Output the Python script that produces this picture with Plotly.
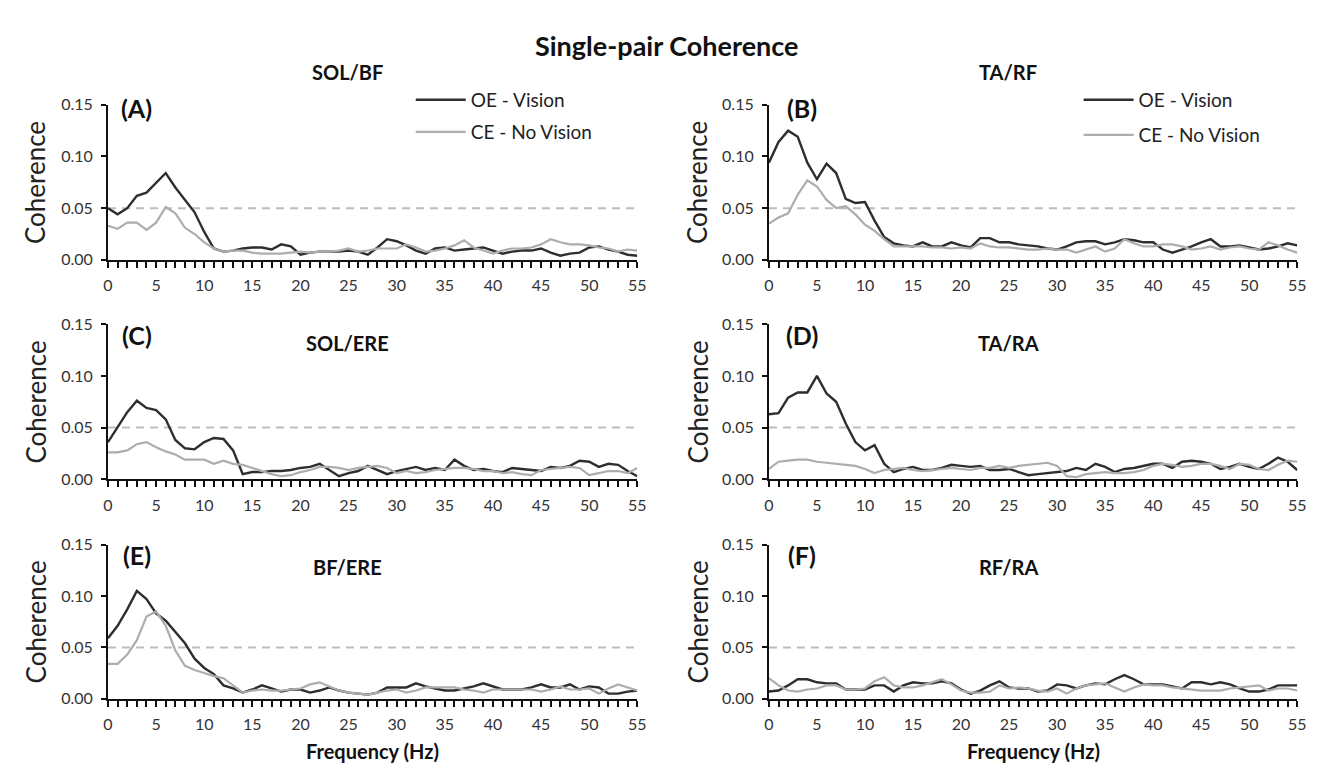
import plotly.graph_objects as go

# ---------------- data ----------------
freq = list(range(56))  # Hz
pair_names = ["SOL/BF", "TA/RF", "SOL/ERE", "TA/RA", "BF/ERE", "RF/RA"]
panel_letters = ["(A)", "(B)", "(C)", "(D)", "(E)", "(F)"]
series_names = ["OE - Vision", "CE - No Vision"]
threshold = 0.05
y_ticks = [0.00, 0.05, 0.10, 0.15]
y_ticklabels = ["0.00", "0.05", "0.10", "0.15"]
x_ticklabels = [str(f) if f % 5 == 0 else "" for f in freq]

sol_bf_oe = [0.050, 0.044, 0.050, 0.062, 0.065, 0.074, 0.084, 0.070, 0.058, 0.046,
             0.027, 0.011, 0.008, 0.009, 0.011, 0.012, 0.012, 0.010, 0.015, 0.013,
             0.005, 0.007, 0.008, 0.008, 0.008, 0.009, 0.008, 0.005, 0.012, 0.020,
             0.018, 0.014, 0.009, 0.006, 0.011, 0.012, 0.009, 0.010, 0.011, 0.012,
             0.009, 0.006, 0.008, 0.009, 0.009, 0.011, 0.007, 0.004, 0.006, 0.007,
             0.012, 0.013, 0.010, 0.008, 0.005, 0.004]
sol_bf_ce = [0.033, 0.030, 0.036, 0.036, 0.029, 0.036, 0.051, 0.045, 0.031, 0.025,
             0.017, 0.011, 0.008, 0.009, 0.009, 0.007, 0.006, 0.006, 0.006, 0.007,
             0.008, 0.007, 0.008, 0.008, 0.009, 0.011, 0.008, 0.009, 0.011, 0.011,
             0.011, 0.015, 0.012, 0.008, 0.009, 0.011, 0.014, 0.019, 0.012, 0.009,
             0.006, 0.009, 0.011, 0.011, 0.012, 0.015, 0.020, 0.017, 0.015, 0.015,
             0.014, 0.012, 0.011, 0.008, 0.010, 0.009]
ta_rf_oe = [0.094, 0.114, 0.125, 0.119, 0.094, 0.078, 0.093, 0.084, 0.059, 0.055,
            0.056, 0.038, 0.022, 0.016, 0.014, 0.013, 0.017, 0.013, 0.013, 0.017,
            0.014, 0.012, 0.021, 0.021, 0.017, 0.017, 0.015, 0.014, 0.013, 0.011,
            0.010, 0.013, 0.017, 0.018, 0.018, 0.015, 0.017, 0.020, 0.019, 0.017,
            0.017, 0.010, 0.007, 0.010, 0.013, 0.017, 0.020, 0.013, 0.013, 0.014,
            0.012, 0.010, 0.011, 0.013, 0.016, 0.014]
ta_rf_ce = [0.035, 0.041, 0.045, 0.063, 0.077, 0.071, 0.058, 0.050, 0.052, 0.044,
            0.034, 0.028, 0.020, 0.013, 0.013, 0.013, 0.013, 0.012, 0.012, 0.011,
            0.012, 0.011, 0.016, 0.013, 0.012, 0.012, 0.011, 0.010, 0.010, 0.011,
            0.010, 0.010, 0.007, 0.010, 0.013, 0.008, 0.011, 0.020, 0.016, 0.013,
            0.013, 0.015, 0.015, 0.013, 0.010, 0.011, 0.013, 0.010, 0.012, 0.013,
            0.011, 0.010, 0.017, 0.014, 0.010, 0.007]
sol_ere_oe = [0.036, 0.050, 0.065, 0.076, 0.069, 0.067, 0.058, 0.038, 0.030, 0.029,
              0.036, 0.040, 0.039, 0.028, 0.005, 0.007, 0.007, 0.008, 0.008, 0.009,
              0.011, 0.012, 0.015, 0.009, 0.003, 0.006, 0.008, 0.013, 0.009, 0.005,
              0.008, 0.010, 0.012, 0.009, 0.011, 0.009, 0.019, 0.013, 0.009, 0.010,
              0.008, 0.007, 0.011, 0.010, 0.009, 0.008, 0.012, 0.011, 0.013, 0.018,
              0.017, 0.012, 0.015, 0.014, 0.008, 0.003]
sol_ere_ce = [0.026, 0.026, 0.028, 0.034, 0.036, 0.031, 0.027, 0.024, 0.019, 0.019,
              0.019, 0.015, 0.018, 0.015, 0.014, 0.011, 0.008, 0.005, 0.003, 0.004,
              0.007, 0.009, 0.012, 0.012, 0.011, 0.009, 0.011, 0.012, 0.013, 0.011,
              0.006, 0.008, 0.006, 0.007, 0.009, 0.010, 0.011, 0.011, 0.010, 0.008,
              0.008, 0.006, 0.007, 0.005, 0.004, 0.009, 0.010, 0.011, 0.012, 0.011,
              0.004, 0.006, 0.008, 0.008, 0.006, 0.011]
ta_ra_oe = [0.063, 0.064, 0.079, 0.084, 0.084, 0.100, 0.083, 0.075, 0.054, 0.036,
            0.028, 0.033, 0.015, 0.007, 0.010, 0.012, 0.009, 0.009, 0.011, 0.014,
            0.013, 0.012, 0.013, 0.009, 0.009, 0.010, 0.007, 0.004, 0.005, 0.006,
            0.007, 0.008, 0.011, 0.009, 0.015, 0.012, 0.007, 0.010, 0.011, 0.013,
            0.015, 0.015, 0.011, 0.017, 0.018, 0.017, 0.015, 0.010, 0.012, 0.015,
            0.012, 0.010, 0.015, 0.021, 0.017, 0.009]
ta_ra_ce = [0.010, 0.017, 0.018, 0.019, 0.019, 0.017, 0.016, 0.015, 0.014, 0.013,
            0.010, 0.006, 0.009, 0.010, 0.011, 0.009, 0.008, 0.009, 0.010, 0.011,
            0.010, 0.009, 0.011, 0.011, 0.013, 0.011, 0.013, 0.014, 0.015, 0.016,
            0.013, 0.003, 0.002, 0.005, 0.006, 0.007, 0.006, 0.006, 0.007, 0.009,
            0.013, 0.015, 0.014, 0.012, 0.013, 0.015, 0.015, 0.013, 0.010, 0.015,
            0.014, 0.010, 0.009, 0.014, 0.018, 0.017]
bf_ere_oe = [0.059, 0.071, 0.087, 0.105, 0.097, 0.083, 0.076, 0.065, 0.054, 0.039,
             0.030, 0.024, 0.013, 0.010, 0.006, 0.009, 0.013, 0.010, 0.007, 0.009,
             0.009, 0.006, 0.008, 0.011, 0.008, 0.006, 0.005, 0.004, 0.006, 0.011,
             0.011, 0.011, 0.015, 0.012, 0.010, 0.008, 0.008, 0.010, 0.012, 0.015,
             0.012, 0.009, 0.009, 0.009, 0.011, 0.014, 0.011, 0.011, 0.014, 0.009,
             0.012, 0.011, 0.005, 0.005, 0.007, 0.008]
bf_ere_ce = [0.034, 0.034, 0.043, 0.057, 0.080, 0.085, 0.071, 0.047, 0.032, 0.028,
             0.025, 0.022, 0.020, 0.013, 0.006, 0.008, 0.009, 0.008, 0.008, 0.009,
             0.010, 0.014, 0.016, 0.012, 0.008, 0.006, 0.005, 0.004, 0.006, 0.008,
             0.009, 0.006, 0.008, 0.011, 0.011, 0.011, 0.011, 0.009, 0.008, 0.006,
             0.009, 0.009, 0.009, 0.009, 0.009, 0.007, 0.009, 0.012, 0.009, 0.009,
             0.010, 0.005, 0.010, 0.014, 0.011, 0.008]
rf_ra_oe = [0.007, 0.008, 0.013, 0.019, 0.019, 0.016, 0.015, 0.015, 0.009, 0.009,
            0.009, 0.013, 0.013, 0.007, 0.013, 0.016, 0.015, 0.015, 0.017, 0.015,
            0.009, 0.005, 0.008, 0.013, 0.017, 0.011, 0.010, 0.010, 0.007, 0.008,
            0.014, 0.013, 0.010, 0.013, 0.015, 0.014, 0.019, 0.023, 0.019, 0.014,
            0.014, 0.014, 0.012, 0.010, 0.016, 0.016, 0.014, 0.016, 0.014, 0.010,
            0.007, 0.007, 0.009, 0.013, 0.013, 0.013]
rf_ra_ce = [0.020, 0.013, 0.008, 0.007, 0.009, 0.010, 0.013, 0.013, 0.009, 0.009,
            0.010, 0.017, 0.021, 0.013, 0.011, 0.011, 0.013, 0.016, 0.019, 0.014,
            0.008, 0.006, 0.006, 0.007, 0.013, 0.010, 0.011, 0.010, 0.008, 0.007,
            0.010, 0.005, 0.010, 0.013, 0.014, 0.015, 0.011, 0.007, 0.011, 0.014,
            0.013, 0.013, 0.011, 0.010, 0.009, 0.008, 0.008, 0.008, 0.010, 0.011,
            0.012, 0.013, 0.008, 0.010, 0.010, 0.008]

oe_series = [sol_bf_oe, ta_rf_oe, sol_ere_oe, ta_ra_oe, bf_ere_oe, rf_ra_oe]
ce_series = [sol_bf_ce, ta_rf_ce, sol_ere_ce, ta_ra_ce, bf_ere_ce, rf_ra_ce]

# ---------------- layout helpers ----------------
W, H = 1322, 769
FONT = "Lato"
OE_COLOR = "#2e2e2e"
CE_COLOR = "#adadad"


def px(xp):
    return xp / W


def py(yp):
    return 1 - yp / H


col_dom = [(px(96), px(631)), (px(764), px(1298))]
row_dom = [(py(248), py(89)), (py(473), py(314)), (py(698), py(540))]

fig = go.Figure()
layout = dict(
    width=W, height=H,
    margin=dict(l=0, r=0, t=0, b=0),
    paper_bgcolor="white", plot_bgcolor="white",
    font=dict(family=FONT, color="#333"),
    annotations=[], shapes=[],
)

legend_names = {0: ("legend", "legend2"), 1: ("legend3", "legend4")}

for i in range(6):
    r, c = divmod(i, 2)
    ax = "" if i == 0 else str(i + 1)
    xa, ya = "x" + ax, "y" + ax
    show_leg = i in (0, 1)
    for s, (vals, color, width) in enumerate(
            [(oe_series[i], OE_COLOR, 2.4), (ce_series[i], CE_COLOR, 2.2)]):
        tr = dict(x=freq, y=vals, mode="lines", name=series_names[s],
                  line=dict(color=color, width=width),
                  xaxis=xa, yaxis=ya, showlegend=show_leg)
        if show_leg:
            tr["legend"] = legend_names[i][s]
        fig.add_trace(go.Scatter(**tr))

    layout["xaxis" + ax] = dict(
        domain=list(col_dom[c]), anchor=ya, range=[0, 55],
        tickmode="array", tickvals=freq, ticktext=x_ticklabels,
        ticks="outside", ticklen=6, tickwidth=1.6,
        tickcolor="#111", showline=True, linecolor="#111", linewidth=2,
        showgrid=False, zeroline=False,
        tickfont=dict(family=FONT, size=16, color="#333"),
        ticklabelstandoff=4,
    )
    layout["yaxis" + ax] = dict(
        domain=list(row_dom[r]), anchor=xa, range=[0, 0.15],
        tickvals=y_ticks, ticktext=y_ticklabels, ticks="outside", ticklen=5,
        tickwidth=1.6, tickcolor="#111", showline=True, linecolor="#111",
        linewidth=2, showgrid=False, zeroline=False,
        tickfont=dict(family=FONT, size=16, color="#333"),
        ticklabelstandoff=5,
    )
    # significance threshold
    layout["shapes"].append(dict(
        type="line", xref=xa, yref=ya, x0=freq[0], x1=freq[-1],
        y0=threshold, y1=threshold, layer="below",
        line=dict(color="#bdbdbd", width=2, dash="8px,6px")))

    # y-axis title
    layout["annotations"].append(dict(
        text="Coherence", xref="paper", yref="paper",
        x=px(23 if c == 0 else 692), y=(row_dom[r][0] + row_dom[r][1]) / 2,
        textangle=-90, showarrow=False, xanchor="center", yanchor="middle",
        font=dict(family=FONT, size=26, color="#222")))

    # panel letter
    letter_y = [92, 325, 551][r]
    layout["annotations"].append(dict(
        text="<b>%s</b>" % panel_letters[i], xref="paper", yref="paper",
        x=px(125 if c == 0 else 797), y=py(letter_y), showarrow=False,
        xanchor="center", yanchor="middle",
        font=dict(family=FONT, size=25, color="#111")))

    # pair title
    title_y = [55, 333, 563][r]
    layout["annotations"].append(dict(
        text="<b>%s</b>" % pair_names[i], xref="paper", yref="paper",
        x=px(338 if c == 0 else 1006), y=py(title_y), showarrow=False,
        xanchor="center", yanchor="middle",
        font=dict(family=FONT, size=20, color="#111")))

# x-axis titles on bottom row
for c in range(2):
    layout["annotations"].append(dict(
        text="<b>Frequency (Hz)</b>", xref="paper", yref="paper",
        x=(col_dom[c][0] + col_dom[c][1]) / 2, y=py(752), showarrow=False,
        xanchor="center", yanchor="middle",
        font=dict(family=FONT, size=20, color="#111")))

# main title
layout["annotations"].append(dict(
    text="<b>Single-pair Coherence</b>", xref="paper", yref="paper",
    x=0.5, y=py(28), showarrow=False, xanchor="center", yanchor="middle",
    font=dict(family=FONT, size=27, color="#111")))

# legends (one per entry so the spacing matches)
leg_common = dict(xanchor="left", yanchor="middle", bgcolor="rgba(0,0,0,0)",
                  font=dict(family=FONT, size=19, color="#222"),
                  itemwidth=50, borderwidth=0)
layout["legend"] = dict(x=px(402), y=py(84), **leg_common)
layout["legend2"] = dict(x=px(402), y=py(117), **leg_common)
layout["legend3"] = dict(x=px(1077), y=py(84), **leg_common)
layout["legend4"] = dict(x=px(1077), y=py(120), **leg_common)

fig.update_layout(**layout)
fig.write_html("out.html")
